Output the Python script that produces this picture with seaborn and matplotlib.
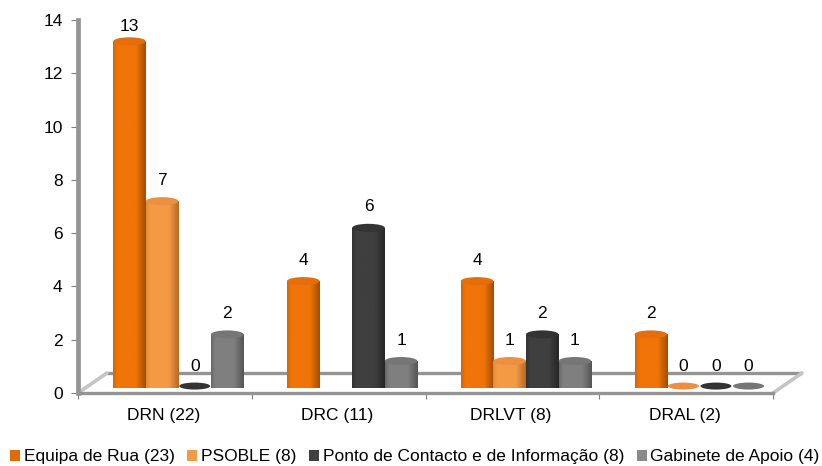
import numpy as np
import pandas as pd
import matplotlib
matplotlib.use("Agg")
import matplotlib.pyplot as plt
from matplotlib.patches import Ellipse, Rectangle
from matplotlib.colors import LinearSegmentedColormap
import seaborn as sns

categories = ["DRN (22)", "DRC (11)", "DRLVT (8)", "DRAL (2)"]
series_names = ["Equipa de Rua (23)", "PSOBLE (8)", "Ponto de Contacto e de Informação (8)", "Gabinete de Apoio (4)"]
equipa = [13, 4, 4, 2]
psoble = [7, np.nan, 1, 0]
ponto = [0, 6, 2, 0]
gabinete = [2, 1, 1, 0]
colors = ["#F07408", "#F49A45", "#3F3F3F", "#7F7F7F"]
edge_dark = ["#A34E04", "#B56A26", "#262626", "#555555"]
edge_left = ["#D86605", "#E08A3A", "#333333", "#6A6A6A"]
cap = ["#E56E0A", "#EC8F3E", "#333333", "#767676"]

BASE = 0.2
FS = 12.5
sns.set_theme(style="white")
plt.rcParams["font.family"] = ["Liberation Sans", "DejaVu Sans"]

W, H = 822, 466
fig = plt.figure(figsize=(W / 100, H / 100), dpi=100, facecolor="white")
L, R, T, B = 78, 773, 20, 393
ax = fig.add_axes([L / W, 1 - B / H, (R - L) / W, (B - T) / H])

df = pd.DataFrame({"cat": categories, series_names[0]: equipa, series_names[1]: psoble,
                   series_names[2]: ponto, series_names[3]: gabinete})
long = df.melt(id_vars="cat", var_name="serie", value_name="valor")
sns.barplot(data=long, x="cat", y="valor", hue="serie", order=categories, hue_order=series_names,
            palette=colors, width=0.75, gap=0, bottom=BASE, linewidth=0, ax=ax, legend=False, zorder=3)

shift = 0.078
ax.set_xlim(-0.5 - shift, 3.5 - shift)
ax.set_ylim(0, 14)
xpx = (R - L) / 4            # pixels per category
ypx = (B - T) / 14           # pixels per unit
xl, yl = ax.get_xlim(), ax.get_ylim()

# floor and walls
depth_x, depth_y = 29 / xpx, 20 / ypx
grey = "#949494"
ax.plot([xl[0] + depth_x, xl[1] + depth_x], [depth_y, depth_y], color=grey, lw=2.4, clip_on=False, zorder=1,
        solid_capstyle="butt")
for x0 in (xl[0], xl[1]):
    ax.plot([x0, x0 + depth_x], [0, depth_y], color="#C4C4C4", lw=2.6, clip_on=False, zorder=1)

# cylinders
for k, cont in enumerate(ax.containers):
    cmap = LinearSegmentedColormap.from_list(
        "c", [(0, edge_left[k]), (0.12, colors[k]), (0.7, colors[k]), (1, edge_dark[k])])
    grad = np.linspace(0, 1, 64).reshape(1, -1)
    for p in cont.patches:
        h = p.get_height()
        if not np.isfinite(h):
            continue
        x0, w = p.get_x(), p.get_width()
        p.set_visible(False)
        cx = x0 + w / 2
        eh = 8 / ypx
        if h > 0:
            im = ax.imshow(grad, extent=[x0, x0 + w, BASE, BASE + h], cmap=cmap, aspect="auto",
                           origin="lower", zorder=3 + 0.1 * cx, interpolation="bilinear")
            im.set_clip_path(Rectangle((x0, BASE), w, h, transform=ax.transData))
            ax.add_patch(Ellipse((cx, BASE + h), w, eh, facecolor=cap[k], edgecolor="none",
                                 zorder=3.01 + 0.1 * cx, clip_on=False))
        else:
            ax.add_patch(Ellipse((cx, BASE + 0.06), w * 0.95, 7 / ypx, facecolor=cap[k], edgecolor="none",
                                 zorder=3 + 0.1 * cx, clip_on=False))
        off = 15 if h >= 13 else 21
        ax.annotate(f"{h:.0f}", (cx, BASE + h), xytext=(0, off * 0.72), textcoords="offset points",
                    ha="center", va="center", fontsize=FS, color="black", zorder=20, annotation_clip=False)

ax.set_xlim(xl)
ax.set_ylim(yl)
ax.set_xlabel("")
ax.set_ylabel("")
sns.despine(ax=ax, top=True, right=True)
for s, lw in (("left", 3.4), ("bottom", 2.4)):
    ax.spines[s].set_color(grey)
    ax.spines[s].set_linewidth(lw)
    ax.spines[s].set_zorder(2)

ax.set_yticks(range(0, 15, 2))
ax.tick_params(axis="y", left=True, length=5, width=0.8, color="#808080", labelsize=FS, pad=6, labelcolor="black")
ax.set_xticks(np.arange(5) - 0.5 - shift)
ax.set_xticklabels([])
ax.tick_params(axis="x", bottom=True, length=4, width=0.8, color="#808080")
ax.set_xticks(np.arange(4) - shift - 0.01, minor=True)
ax.set_xticklabels(categories, minor=True)
ax.tick_params(axis="x", which="minor", bottom=False, labelsize=FS, pad=7, labelcolor="black")

handles = [Rectangle((0, 0), 1, 1, facecolor=c, edgecolor="none") for c in ["#DF6C08", "#F09A4A", "#404040", "#8A8A8A"]]
fig.legend(handles, series_names, loc="lower left", bbox_to_anchor=(8 / W, 0.0), ncol=4, frameon=False,
           fontsize=FS, handlelength=0.6, handleheight=0.6, handletextpad=0.2, columnspacing=0.72,
           borderpad=0.1, borderaxespad=0, labelcolor="black")

fig.savefig("out.png", dpi=100, facecolor="white")
